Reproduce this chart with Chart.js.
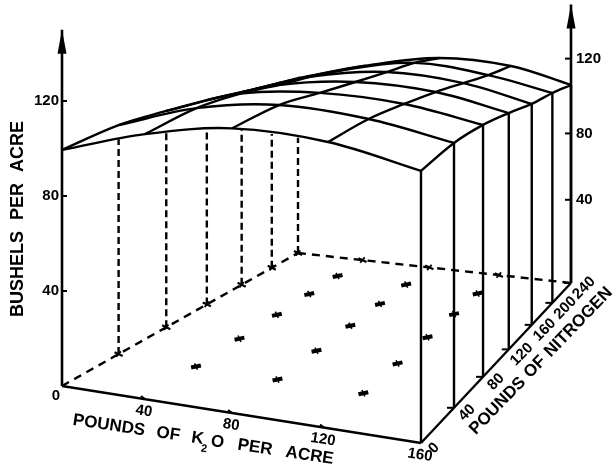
<!DOCTYPE html>
<html>
<head>
<meta charset="utf-8">
<title>Yield surface</title>
<script src="https://cdn.jsdelivr.net/npm/chart.js@4/dist/chart.umd.min.js"></script>
<style>
  html, body { margin: 0; padding: 0; background: #fff; }
  canvas { display: block; }
</style>
</head>
<body>
<canvas id="chart" width="614" height="471"></canvas>
<script>
// Axis levels
const potashLevels = [0, 40, 80, 120, 160];
const nitrogenLevels = [0, 40, 80, 120, 160, 200, 240];
const bushelTicks = [40, 80, 120];

// Bushels per acre along each potash level, one value per nitrogen level
const yieldAtK0 = [99.4, 103.1, 103.4, 103.1, 102.1, 101.3, 100.9];
const yieldAtK40 = [108.8, 113.4, 114.3, 113.2, 112.7, 111.5, 110.1];
const yieldAtK80 = [113.9, 117.4, 117.2, 117.2, 117.4, 117.8, 116.4];
const yieldAtK120 = [111.3, 114.2, 114.9, 115, 114.3, 113.6, 114];
const yieldAtK160 = [103.2, 107.3, 108.6, 108, 106.7, 106.8, 105.9];
const yieldTable = [yieldAtK0, yieldAtK40, yieldAtK80, yieldAtK120, yieldAtK160];

// The right hand scale was drawn unevenly, its 40 mark sits high
const rightTickLabels = [40, 80, 120];
const rightTickHeights = [44.5, 80, 120];

const INK = "#000";
const FONT = '"Liberation Sans", Arial, sans-serif';

// Perspective of the floor, from its four corners on the page
const c00 = [62, 386], c10 = [421, 443], c11 = [571, 283], c01 = [298, 253];
const dx1 = [c10[0] - c11[0], c10[1] - c11[1]];
const dx2 = [c01[0] - c11[0], c01[1] - c11[1]];
const sum = [c00[0] - c10[0] + c11[0] - c01[0], c00[1] - c10[1] + c11[1] - c01[1]];
const det = dx1[0] * dx2[1] - dx1[1] * dx2[0];
const g = (sum[0] * dx2[1] - sum[1] * dx2[0]) / det;
const h = (dx1[0] * sum[1] - dx1[1] * sum[0]) / det;
const pixelsPerBushel = 2.375;

function project(k, n, z = 0) {
  const u = k / 160;
  let v = n / 240;
  // the left edge of the drawing runs a little ahead of true perspective
  v = v + 0.148 * v * (1 - v) * (1 - u);
  const w = 1 + g * u + h * v;
  const x = (c00[0] + (c10[0] * (1 + g) - c00[0]) * u + (c01[0] * (1 + h) - c00[0]) * v) / w;
  const y = (c00[1] + (c10[1] * (1 + g) - c00[1]) * u + (c01[1] * (1 + h) - c00[1]) * v) / w;
  return { x: x, y: y - (z * pixelsPerBushel) / w };
}

// Top surface lines drift right of the floor grid in the middle columns
const driftBase = [0, 0, 0, 4, 0];
const driftSlope = [0, 3, 10, 8, 0];
function surfacePoint(i, j) {
  const p = project(potashLevels[i], nitrogenLevels[j], yieldTable[i][j]);
  return { x: p.x + driftBase[i] + (driftSlope[i] * nitrogenLevels[j]) / 240, y: p.y };
}

const datasets = [];
function addLine(points, opts) {
  datasets.push(Object.assign({
    data: points,
    showLine: true,
    borderColor: INK,
    borderWidth: 2.4,
    pointRadius: 0,
    tension: 0,
    fill: false,
  }, opts));
}
function addMarks(points, rotation, radius, width) {
  datasets.push({
    data: points,
    showLine: false,
    pointStyle: "line",
    pointRadius: radius,
    pointRotation: rotation,
    pointBorderColor: INK,
    pointBorderWidth: width,
  });
}

const lastK = potashLevels.length - 1;
const lastN = nitrogenLevels.length - 1;

// Surface grid
potashLevels.forEach((k, i) => {
  addLine(nitrogenLevels.map((n, j) => surfacePoint(i, j)), { tension: 0.35 });
});
nitrogenLevels.forEach((n, j) => {
  addLine(potashLevels.map((k, i) => surfacePoint(i, j)), { tension: 0.35 });
});

// Height of the front edge at a given x, the hidden verticals stop there
function frontEdgeY(x) {
  const edge = potashLevels.map((k, i) => surfacePoint(i, 0));
  for (let i = 1; i < edge.length; i++) {
    if (x <= edge[i].x) {
      const t = (x - edge[i - 1].x) / (edge[i].x - edge[i - 1].x);
      return edge[i - 1].y + t * (edge[i].y - edge[i - 1].y);
    }
  }
  return edge[edge.length - 1].y;
}

// Floor outline
const dash = [8, 6];
addLine([project(0, 0), project(160, 0)], {});
addLine([project(160, 0), project(160, 240)], {});
addLine([project(0, 0), project(0, 240)], { borderDash: dash });
addLine([project(0, 240), project(160, 240)], { borderDash: dash });

// Verticals: dashed behind the surface, solid along the K = 160 wall
nitrogenLevels.slice(1).forEach((n) => {
  const foot = project(0, n);
  addLine([foot, { x: foot.x, y: frontEdgeY(foot.x) }], { borderDash: [7, 4] });
  addLine([project(160, n), surfacePoint(lastK, nitrogenLevels.indexOf(n))], {});
});
addLine([project(160, 0), surfacePoint(lastK, 0)], {});

// Bushel axes
const leftAxisTop = 150;
const rightAxisTop = 149;
addLine([project(0, 0), project(0, 0, leftAxisTop)], { borderWidth: 2.6 });
addLine([project(160, 240), project(160, 240, rightAxisTop)], { borderWidth: 2.6 });
bushelTicks.forEach((b) => {
  const p = project(0, 0, b);
  addLine([p, { x: p.x + 5, y: p.y }], { borderWidth: 2 });
});
rightTickHeights.forEach((b) => {
  const p = project(160, 240, b);
  addLine([p, { x: p.x - 6, y: p.y }], { borderWidth: 2 });
});

// Floor ticks and plot marks
potashLevels.slice(1, lastK).forEach((k) => {
  const p = project(k, 0);
  addLine([p, { x: p.x - 4, y: p.y - 3 }], { borderWidth: 2 });
});
nitrogenLevels.slice(1).forEach((n) => {
  const p = project(160, n);
  addLine([p, { x: p.x - 7, y: p.y }], { borderWidth: 2 });
});
const plotMarks = [];
potashLevels.slice(1, lastK).forEach((k) => {
  nitrogenLevels.slice(1, lastN).forEach((n) => plotMarks.push(project(k, n)));
});
addMarks(plotMarks, -12, 5, 4);
addMarks(plotMarks, 65, 3.5, 1.5);
const edgeMarks = nitrogenLevels.slice(1).map((n) => project(0, n))
  .concat(potashLevels.slice(1, lastK).map((k) => project(k, 240)));
addMarks(edgeMarks, 25, 4.5, 2.2);
addMarks(edgeMarks, -50, 3.5, 1.8);

function drawText(ctx, scales, text, px, py, angle, size, align) {
  ctx.save();
  ctx.translate(scales.x.getPixelForValue(px), scales.y.getPixelForValue(py));
  ctx.rotate((angle * Math.PI) / 180);
  ctx.font = "bold " + size + "px " + FONT;
  ctx.textAlign = align || "center";
  ctx.textBaseline = "middle";
  ctx.fillStyle = INK;
  ctx.fillText(text, 0, 0);
  ctx.restore();
}

const labelPlugin = {
  id: "labels",
  afterDatasetsDraw(chart) {
    const ctx = chart.ctx;
    const scales = chart.scales;

    // Arrow heads
    [project(0, 0, leftAxisTop), project(160, 240, rightAxisTop)].forEach((tip) => {
      ctx.save();
      ctx.fillStyle = INK;
      ctx.beginPath();
      ctx.moveTo(scales.x.getPixelForValue(tip.x), scales.y.getPixelForValue(tip.y));
      ctx.lineTo(scales.x.getPixelForValue(tip.x + 4.5), scales.y.getPixelForValue(tip.y + 24));
      ctx.lineTo(scales.x.getPixelForValue(tip.x - 4.5), scales.y.getPixelForValue(tip.y + 24));
      ctx.closePath();
      ctx.fill();
      ctx.restore();
    });

    // Left and right scales
    bushelTicks.forEach((b) => {
      const p = project(0, 0, b);
      drawText(ctx, scales, String(b), p.x - 3, p.y, 0, 15, "right");
    });
    rightTickHeights.forEach((b, i) => {
      const p = project(160, 240, b);
      drawText(ctx, scales, String(rightTickLabels[i]), p.x + 5, p.y, 0, 15, "left");
    });

    // Floor scales
    potashLevels.forEach((k) => {
      const p = project(k, 0);
      if (k === 0) drawText(ctx, scales, "0", p.x - 6, p.y + 10, 0, 15);
      else drawText(ctx, scales, String(k), p.x - 1, p.y + 12, 9, 15);
    });
    nitrogenLevels.forEach((n) => {
      const p = project(160, n);
      drawText(ctx, scales, String(n), p.x + 13, p.y + 5, -45, 15);
    });

    // Axis titles
    ctx.wordSpacing = "6px";
    drawText(ctx, scales, "BUSHELS PER ACRE", 18, 219, -90, 18);
    ctx.wordSpacing = "1px";
    drawText(ctx, scales, "POUNDS OF NITROGEN", 541, 361, -46, 17);
    ctx.wordSpacing = "7px";
    drawText(ctx, scales, "POUNDS OF K", 73, 420, 8.5, 17, "left");
    drawText(ctx, scales, "2", 204, 449, 8.5, 11);
    ctx.wordSpacing = "9px";
    drawText(ctx, scales, "O PER ACRE", 211, 441, 8.5, 17, "left");
    ctx.wordSpacing = "0px";
  },
};

new Chart(document.getElementById("chart").getContext("2d"), {
  type: "scatter",
  data: { datasets: datasets },
  options: {
    responsive: false,
    animation: false,
    layout: { padding: 0, autoPadding: false },
    plugins: { legend: { display: false }, tooltip: { enabled: false } },
    scales: {
      x: { type: "linear", display: false, min: 0, max: 614 },
      y: { type: "linear", display: false, min: 0, max: 471, reverse: true },
    },
  },
  plugins: [labelPlugin],
});
</script>
</body>
</html>
